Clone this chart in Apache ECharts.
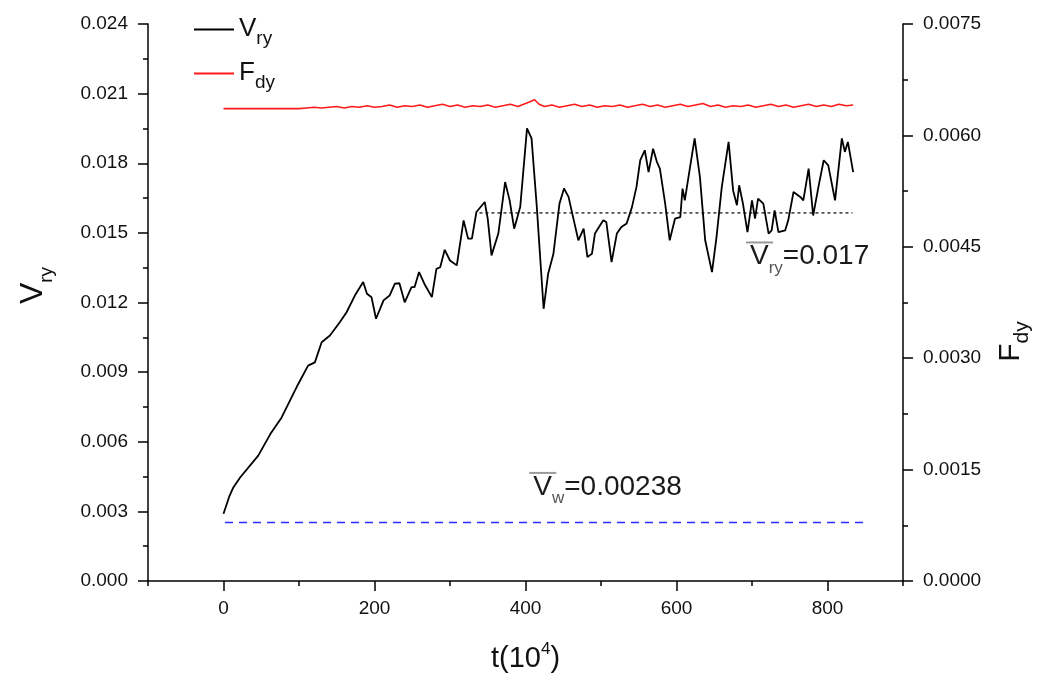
<!DOCTYPE html>
<html><head><meta charset="utf-8">
<script src="https://cdn.jsdelivr.net/npm/echarts@6/dist/echarts.min.js"></script>
<style>html,body{margin:0;padding:0;background:#fff}#c{width:1052px;height:689px}</style>
</head><body><div id="c"></div>
<script>
// ---- data ----
const tRy = [0,8,13,22,46,62,77,88,99,112,121,130,141,154,163,174,185,190,196,202,212,220,227,233,240,249,253,259,266,276,282,287,293,300,309,318,324,329,335,346,350,355,364,373,379,385,393,402,408,415,424,430,437,445,451,457,463,470,477,482,488,492,503,507,514,521,527,534,541,547,552,558,563,569,574,578,585,591,598,605,608,611,618,624,631,638,647,653,660,669,675,680,683,688,694,700,704,708,715,722,726,730,735,744,748,755,764,768,775,781,788,795,801,810,819,823,827,834];
const vRy = [0.00290,0.00367,0.00403,0.00446,0.00540,0.00633,0.00705,0.00777,0.00849,0.00928,0.00942,0.01029,0.01058,0.01115,0.01158,0.01230,0.01288,0.01238,0.01223,0.01130,0.01209,0.01230,0.01281,0.01283,0.01201,0.01266,0.01266,0.01331,0.01281,0.01223,0.01345,0.01352,0.01427,0.01381,0.01360,0.01554,0.01475,0.01475,0.01590,0.01633,0.01560,0.01403,0.01497,0.01719,0.01640,0.01518,0.01611,0.01950,0.01907,0.01611,0.01173,0.01324,0.01410,0.01626,0.01691,0.01655,0.01568,0.01468,0.01518,0.01396,0.01410,0.01497,0.01554,0.01547,0.01374,0.01497,0.01525,0.01540,0.01611,0.01698,0.01813,0.01856,0.01762,0.01863,0.01806,0.01777,0.01626,0.01468,0.01561,0.01568,0.01691,0.01640,0.01784,0.01907,0.01741,0.01468,0.01331,0.01482,0.01698,0.01892,0.01683,0.01619,0.01705,0.01626,0.01503,0.01640,0.01561,0.01648,0.01626,0.01497,0.01511,0.01597,0.01503,0.01511,0.01554,0.01676,0.01655,0.01640,0.01777,0.01575,0.01698,0.01813,0.01791,0.01640,0.01907,0.01849,0.01892,0.01762];
const tFdy = [0,50,100,110,120,130,140,150,160,170,180,190,200,210,220,230,240,250,260,270,280,290,300,310,320,330,340,350,360,370,380,390,400,405,412,418,425,435,445,455,465,475,485,495,505,515,525,535,545,555,565,575,585,595,605,615,625,635,645,655,665,675,685,695,705,715,725,735,745,755,765,775,785,795,805,815,825,834];
const vFdy = [0.00636,0.00636,0.00636,0.00637,0.00638,0.00637,0.00638,0.00639,0.00637,0.00639,0.00638,0.00640,0.00638,0.00639,0.00641,0.00638,0.00640,0.00639,0.00641,0.00638,0.00640,0.00642,0.00639,0.00641,0.00638,0.00640,0.00639,0.00641,0.00638,0.00640,0.00642,0.00639,0.00643,0.00645,0.00648,0.00642,0.00639,0.00641,0.00638,0.00640,0.00642,0.00639,0.00641,0.00638,0.00640,0.00639,0.00641,0.00638,0.00640,0.00642,0.00639,0.00641,0.00638,0.00640,0.00642,0.00639,0.00641,0.00643,0.00639,0.00641,0.00638,0.00640,0.00639,0.00641,0.00638,0.00640,0.00642,0.00639,0.00641,0.00638,0.00640,0.00642,0.00639,0.00641,0.00639,0.00642,0.00640,0.00641];
const meanRyT = [339, 833];
const meanRyV = [0.01586, 0.01586];
const vwT = [2, 851];
const vwV = [0.00252, 0.00252];
const xLabelValues = [0, 200, 400, 600, 800];
const xMinorValues = [-100, 100, 300, 500, 700, 900];
const annRy = 'V|ry|=0.017';
const annW = 'V|w|=0.00238';

const zip = (a, b) => a.map((x, i) => [x, b[i]]);
const FF = '"Liberation Sans", Arial, sans-serif';

const chart = echarts.init(document.getElementById('c'), null, {renderer: 'canvas'});

function annRich(s) {
  const p = s.split('|');
  return '{ol| }\n{v|' + p[0] + '}{s|' + p[1] + '}{t|' + p[2] + '}';
}
const annRichStyle = {
  ol: {width: 27, height: 2, lineHeight: 7, verticalAlign: 'top', backgroundColor: '#9a9a9a', fontSize: 2},
  v: {fontSize: 28, fontFamily: FF, color: '#1a1a1a', verticalAlign: 'bottom', lineHeight: 28, padding: [0, 0, 6, 4]},
  s: {fontSize: 17, fontFamily: FF, color: '#555', verticalAlign: 'bottom', lineHeight: 17},
  t: {fontSize: 28, fontFamily: FF, color: '#1a1a1a', verticalAlign: 'bottom', lineHeight: 28, padding: [0, 0, 6, 0]}
};

const axisLine = {show: true, onZero: false, lineStyle: {color: '#000', width: 1.5}};

const option = {
  backgroundColor: '#fff',
  animation: false,
  grid: {left: 148, right: 149, top: 24, bottom: 108, containLabel: false},
  legend: {
    orient: 'vertical', left: 189, top: 11, itemWidth: 40, itemHeight: 2, itemGap: 12,
    icon: 'rect',
    data: ['Vry', 'Fdy'],
    formatter: n => n === 'Vry' ? '{m|V}{s|ry}' : '{m|F}{s|dy}',
    textStyle: {
      padding: [11, 0, 0, 0],
      rich: {
        m: {fontSize: 26, fontFamily: FF, color: '#111', verticalAlign: 'bottom', lineHeight: 26, padding: [0, 0, 6, 0]},
        s: {fontSize: 19, fontFamily: FF, color: '#111', verticalAlign: 'bottom', lineHeight: 19}
      }
    }
  },
  xAxis: [{
    type: 'value', min: -100, max: 900, interval: 100,
    axisLine: axisLine,
    splitLine: {show: false},
    axisTick: {show: true, inside: false, length: 5, lineStyle: {color: '#000', width: 1.5}, customValues: xMinorValues},
    axisLabel: {customValues: xLabelValues, fontSize: 19, fontFamily: FF, color: '#111', margin: 18},
    name: '{a|t(10}{p|4}{a|)}', nameLocation: 'middle', nameGap: 63,
    nameTextStyle: {rich: {
      a: {fontSize: 29, fontFamily: FF, color: '#111', verticalAlign: 'bottom', lineHeight: 29},
      p: {fontSize: 17, fontFamily: FF, color: '#111', verticalAlign: 'bottom', lineHeight: 17, padding: [0, 0, 15, 0]}
    }}
  }, {
    type: 'value', min: -100, max: 900, position: 'bottom', gridIndex: 0,
    axisLine: {show: false, onZero: false}, splitLine: {show: false},
    axisTick: {show: true, length: 10, lineStyle: {color: '#000', width: 1.5}, customValues: xLabelValues},
    axisLabel: {show: false}
  }],
  yAxis: [{
    type: 'value', min: 0, max: 0.024, interval: 0.003, position: 'left',
    axisLine: axisLine, splitLine: {show: false},
    axisTick: {show: true, length: 10, lineStyle: {color: '#000', width: 1.5}},
    minorTick: {show: true, splitNumber: 2, length: 5, lineStyle: {color: '#000', width: 1.5}},
    axisLabel: {fontSize: 19, fontFamily: FF, color: '#111', margin: 20, formatter: v => v.toFixed(3)},
    name: '{m|V}{s|ry}', nameLocation: 'middle', nameRotate: 90, nameGap: 92,
    nameTextStyle: {padding: [0, 0, 0, 34], rich: {
      m: {fontSize: 32, fontFamily: FF, color: '#111', verticalAlign: 'bottom', lineHeight: 32, padding: [0, 0, 7, 0]},
      s: {fontSize: 19, fontFamily: FF, color: '#111', verticalAlign: 'bottom', lineHeight: 19}
    }}
  }, {
    type: 'value', min: 0, max: 0.0075, interval: 0.0015, position: 'right',
    axisLine: axisLine, splitLine: {show: false},
    axisTick: {show: true, length: 10, lineStyle: {color: '#000', width: 1.5}},
    minorTick: {show: true, splitNumber: 2, length: 5, lineStyle: {color: '#000', width: 1.5}},
    axisLabel: {fontSize: 19, fontFamily: FF, color: '#111', margin: 20, formatter: v => v.toFixed(4)},
    name: '{m|F}{s|dy}', nameLocation: 'middle', nameRotate: 90, nameGap: 100,
    nameTextStyle: {padding: [0, 78, 0, 0], rich: {
      m: {fontSize: 30, fontFamily: FF, color: '#111', verticalAlign: 'bottom', lineHeight: 30, padding: [0, 0, 7, 0]},
      s: {fontSize: 21, fontFamily: FF, color: '#111', verticalAlign: 'bottom', lineHeight: 21}
    }}
  }],
  series: [{
    name: 'Vry', type: 'line', xAxisIndex: 0, yAxisIndex: 0,
    data: zip(tRy, vRy), symbol: 'none', smooth: false,
    lineStyle: {color: '#000', width: 1.8}, itemStyle: {color: '#000'}
  }, {
    name: 'Fdy', type: 'line', xAxisIndex: 0, yAxisIndex: 1,
    data: zip(tFdy, vFdy), symbol: 'none',
    lineStyle: {color: '#ff1a1a', width: 1.6}, itemStyle: {color: '#ff1a1a'}
  }, {
    name: 'meanRy', type: 'line', xAxisIndex: 0, yAxisIndex: 0,
    data: zip(meanRyT, meanRyV), symbol: 'none',
    lineStyle: {color: '#000', width: 1.2, type: [3, 3]},
    markPoint: {
      symbol: 'circle', symbolSize: 0, silent: true,
      label: {show: true, position: [0, 0], formatter: annRich(annRy), rich: annRichStyle},
      data: [{coord: [692, 0.01463]}]
    }
  }, {
    name: 'Vw', type: 'line', xAxisIndex: 0, yAxisIndex: 0,
    data: zip(vwT, vwV), symbol: 'none',
    lineStyle: {color: '#2b2bff', width: 1.4, type: [8, 6]},
    markPoint: {
      symbol: 'circle', symbolSize: 0, silent: true,
      label: {show: true, position: [0, 0], formatter: annRich(annW), rich: annRichStyle},
      data: [{coord: [405, 0.00470]}]
    }
  }]
};
chart.setOption(option);
</script>
</body></html>
